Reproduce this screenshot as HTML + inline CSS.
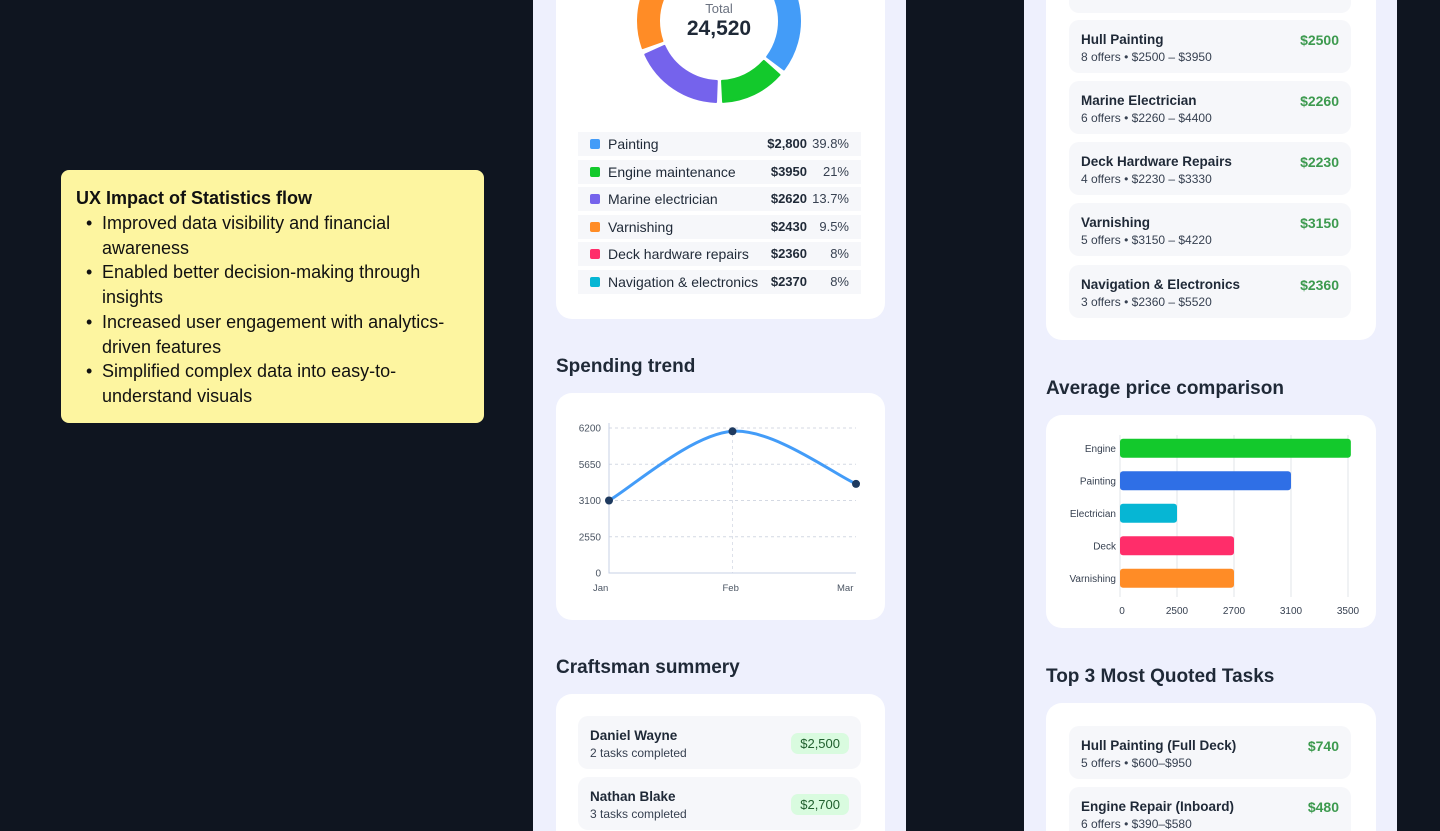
<!DOCTYPE html>
<html><head><meta charset="utf-8"><style>
*{box-sizing:border-box;margin:0;padding:0}
html{width:1440px;height:831px;overflow:hidden}
body{width:1440px;height:831px;background:#0f1520;font-family:"Liberation Sans",sans-serif;position:relative;overflow:hidden;color:#1f2937}
.abs{position:absolute}
.panel{position:absolute;top:0;height:831px;background:#eef0fd}
.card{position:absolute;background:#fff;border-radius:16px}
.h{position:absolute;font-size:19px;font-weight:bold;color:#1f2937}
.row{position:absolute;left:578px;width:283px;height:24px;background:#f6f7fa;font-size:14px}
.row .sw{position:absolute;left:12px;top:7px;width:10px;height:10px;border-radius:2px}
.row .n{position:absolute;left:30px;top:4px}
.row .a{position:absolute;right:54px;top:4px;font-weight:bold;font-size:13px}
.row .p{position:absolute;right:12px;top:4px;color:#374151;font-size:13px}
.item{position:absolute;left:1069px;width:282px;height:53px;background:#f6f7fa;border-radius:10px}
.item .t{position:absolute;left:12px;top:12px;font-size:13.5px;font-weight:bold}
.item .s{position:absolute;left:12px;top:30px;font-size:12px;color:#374151}
.item .v{position:absolute;right:12px;top:12px;font-size:14px;font-weight:bold;color:#3d9a4f}
.note{left:61px;top:170px;width:423px;height:253px;background:#fdf5a0;border-radius:8px;padding:18px 15px;font-size:18px;color:#111}
.note ul{margin-left:12px;list-style:none}
.note li{line-height:24.7px;position:relative;padding-left:14px}
.note li:before{content:"•";position:absolute;left:-2px}
</style></head><body>
<div class="abs note">
<div style="font-weight:bold;margin-bottom:2px">UX Impact of Statistics flow</div>
<ul>
<li>Improved data visibility and financial awareness</li>
<li>Enabled better decision-making through insights</li>
<li>Increased user engagement with analytics-driven features</li>
<li>Simplified complex data into easy-to-understand visuals</li>
</ul></div>

<div class="panel" style="left:533px;width:373px"></div>
<div class="panel" style="left:1024px;width:373px"></div>

<div class="card" style="left:556px;top:-30px;width:329px;height:349px"></div>
<svg class="abs" style="left:0;top:0" width="1440" height="831" id="donut"></svg>
<div class="abs" style="left:669px;top:1px;width:100px;text-align:center;font-size:13px;color:#6b7280">Total</div>
<div class="abs" style="left:659px;top:17px;width:120px;text-align:center;font-size:21px;font-weight:bold;color:#1f2937">24,520</div>

<div id="legend"></div>

<div class="h" style="left:556px;top:356px">Spending trend</div>
<div class="card" style="left:556px;top:393px;width:329px;height:227px"></div>
<svg class="abs" style="left:556px;top:393px" width="329" height="227" id="line"></svg>

<div class="h" style="left:556px;top:657px">Craftsman summery</div>
<div class="card" style="left:556px;top:694px;width:329px;height:137px;border-radius:16px 16px 0 0"></div>
<div class="item" style="left:578px;top:716px;width:283px"><div class="t">Daniel Wayne</div><div class="s">2 tasks completed</div><div class="abs" style="right:12px;top:17px;background:#d9fbdf;border-radius:7px;padding:3px 9px;font-size:13px;color:#1f5f2d">$2,500</div></div>
<div class="item" style="left:578px;top:777px;width:283px"><div class="t">Nathan Blake</div><div class="s">3 tasks completed</div><div class="abs" style="right:12px;top:17px;background:#d9fbdf;border-radius:7px;padding:3px 9px;font-size:13px;color:#1f5f2d">$2,700</div></div>

<div class="card" style="left:1046px;top:-30px;width:330px;height:370px"></div>
<div class="item" style="top:-40px"></div>
<div class="item" style="top:20px"><div class="t">Hull Painting</div><div class="s">8 offers • $2500 – $3950</div><div class="v">$2500</div></div>
<div class="item" style="top:81px"><div class="t">Marine Electrician</div><div class="s">6 offers • $2260 – $4400</div><div class="v">$2260</div></div>
<div class="item" style="top:142px"><div class="t">Deck Hardware Repairs</div><div class="s">4 offers • $2230 – $3330</div><div class="v">$2230</div></div>
<div class="item" style="top:203px"><div class="t">Varnishing</div><div class="s">5 offers • $3150 – $4220</div><div class="v">$3150</div></div>
<div class="item" style="top:265px"><div class="t">Navigation &amp; Electronics</div><div class="s">3 offers • $2360 – $5520</div><div class="v">$2360</div></div>

<div class="h" style="left:1046px;top:378px">Average price comparison</div>
<div class="card" style="left:1046px;top:415px;width:330px;height:213px"></div>
<svg class="abs" style="left:1046px;top:415px" width="330" height="213" id="bar"></svg>

<div class="h" style="left:1046px;top:666px">Top 3 Most Quoted Tasks</div>
<div class="card" style="left:1046px;top:703px;width:330px;height:128px;border-radius:16px 16px 0 0"></div>
<div class="item" style="top:726px"><div class="t">Hull Painting (Full Deck)</div><div class="s">5 offers • $600–$950</div><div class="v">$740</div></div>
<div class="item" style="top:787px"><div class="t">Engine Repair (Inboard)</div><div class="s">6 offers • $390–$580</div><div class="v">$480</div></div>

<script>
const NS='http://www.w3.org/2000/svg';
function mk(tag,attrs,parent){const e=document.createElementNS(NS,tag);for(const k in attrs)e.setAttribute(k,attrs[k]);parent.appendChild(e);return e;}

// Donut data
const donutCats=['Deck hardware repairs','Navigation & electronics','Painting','Engine maintenance','Marine electrician','Varnishing'];
const donutShare=[8,8,26,14,19,25];
const donutColors=['#ff2d6a','#06b6d4','#439cf8','#13c92c','#7563ec','#ff8c26'];
const legendCats=['Painting','Engine maintenance','Marine electrician','Varnishing','Deck hardware repairs','Navigation & electronics'];
const legendAmounts=['$2,800','$3950','$2620','$2430','$2360','$2370'];
const legendPcts=['39.8%','21%','13.7%','9.5%','8%','8%'];
const legendColors=['#439cf8','#13c92c','#7563ec','#ff8c26','#ff2d6a','#06b6d4'];

(function(){
 const svg=document.getElementById('donut');const cx=719,cy=21,R=81,r=60,total=donutShare.reduce((a,b)=>a+b,0);
 let ang=-112;
 donutShare.forEach((v,i)=>{
  const span=v/total*360, a0=(ang+2.5)*Math.PI/180, a1=(ang+span-2.5)*Math.PI/180; ang+=span;
  const large=span-5>180?1:0;
  const p=`M${cx+R*Math.cos(a0)} ${cy+R*Math.sin(a0)} A${R} ${R} 0 ${large} 1 ${cx+R*Math.cos(a1)} ${cy+R*Math.sin(a1)} L${cx+r*Math.cos(a1)} ${cy+r*Math.sin(a1)} A${r} ${r} 0 ${large} 0 ${cx+r*Math.cos(a0)} ${cy+r*Math.sin(a0)}Z`;
  const el=mk('path',{d:p,fill:donutColors[i],'stroke-linejoin':'round','stroke':donutColors[i],'stroke-width':2},svg);
  
  
 });
 const lg=document.getElementById('legend');
 legendCats.forEach((c,i)=>{
  const d=document.createElement('div');d.className='row';d.style.top=(132+i*27.6)+'px';
  
  
  d.innerHTML=`<div class="sw" style="background:${legendColors[i]}"></div><div class="n">${c.replace('&','&amp;')}</div><div class="a">${legendAmounts[i]}</div><div class="p">${legendPcts[i]}</div>`;
  lg.appendChild(d);
 });
})();

// Line chart data
const months=['Jan','Feb','Mar'];
const spend=[3100,6150,4270];
const yTicks=[0,2550,3100,5650,6200];

(function(){
 const svg=document.getElementById('line');
 const x0=53,x1=300,yb=180,yt=35;
 const xs=i=>x0+i*(x1-x0)/(months.length-1);
 const ys=v=>{const n=yTicks.length-1,step=(yb-yt)/n;for(let k=0;k<n;k++){if(v<=yTicks[k+1]){return yb-step*(k+(v-yTicks[k])/(yTicks[k+1]-yTicks[k]));}}return yt-(v-yTicks[n])/(yTicks[n]-yTicks[n-1])*step;};
 yTicks.forEach(t=>{const y=ys(t);
  if(t>0){const g=mk('line',{x1:x0,x2:x1,y1:y,y2:y,stroke:'#d4d9e3','stroke-dasharray':'3 3'},svg);}
  const tx=mk('text',{x:x0-8,y:y+3.5,'text-anchor':'end','font-size':10,fill:'#4b5563'},svg);tx.textContent=t;
  
 });
 const vg=mk('line',{x1:xs(1),x2:xs(1),y1:yt,y2:yb,stroke:'#dde1ea','stroke-dasharray':'3 3'},svg);
 
 const ax=mk('path',{d:`M${x0} ${yt-5}V${yb}H${x1}`,stroke:'#c7d0e6',fill:'none'},svg);
 
 months.forEach((m,i)=>{const t=mk('text',{x:xs(i)+(i==0?-16:i==months.length-1?-19:-10),y:yb+18,'font-size':9.5,fill:'#4b5563'},svg);t.textContent=m;
  });
 const pts=spend.map((v,i)=>[xs(i),ys(v)]);
 let d=`M${pts[0][0]} ${pts[0][1]}`;
 for(let i=0;i<pts.length-1;i++){const p0=pts[i-1]||pts[i],p1=pts[i],p2=pts[i+1],p3=pts[i+2]||p2;
  const c1=[p1[0]+(p2[0]-p0[0])/6,p1[1]+(p2[1]-p0[1])/6],c2=[p2[0]-(p3[0]-p1[0])/6,p2[1]-(p3[1]-p1[1])/6];
  d+=` C${c1[0]} ${c1[1]} ${c2[0]} ${c2[1]} ${p2[0]} ${p2[1]}`;}
 const ln=mk('path',{d,stroke:'#439cf8','stroke-width':3,fill:'none'},svg);
 
 pts.forEach(p=>{const c=mk('circle',{cx:p[0],cy:p[1],r:4,fill:'#1e3a5f'},svg);
  });
})();

// Bar chart data
const barCats=['Engine','Painting','Electrician','Deck','Varnishing'];
const barVals=[3520,3100,2500,2700,2700];
const xTicks=[0,2500,2700,3100,3500];
const barColors=['#13c92c','#2f6fe6','#06b6d4','#ff2d6a','#ff8c26'];

(function(){
 const svg=document.getElementById('bar');
 const x0=74,step=57,yTop=22,band=32.5;
 const xs=v=>{const n=xTicks.length-1;for(let k=0;k<n;k++){if(v<=xTicks[k+1])return x0+step*(k+(v-xTicks[k])/(xTicks[k+1]-xTicks[k]));}return x0+step*(n+(v-xTicks[n])/(xTicks[n]-xTicks[n-1]));};
 xTicks.forEach(t=>{const x=xs(t);
  const g=mk('line',{x1:x,x2:x,y1:20,y2:182,stroke:'#e2e4e8'},svg);
  const tx=mk('text',{x:x+(t==0?2:0),y:199,'text-anchor':'middle','font-size':10,fill:'#374151'},svg);tx.textContent=t;
  });
 barCats.forEach((c,i)=>{const yc=yTop+band*(i+0.5)-5;
  const r=mk('rect',{x:x0,y:yc-9.5,width:xs(barVals[i])-x0,height:19,rx:3,fill:barColors[i]},svg);
  
  const t=mk('text',{x:x0-4,y:yc+3.5,'text-anchor':'end','font-size':10,fill:'#374151'},svg);t.textContent=c;
  });
})();
</script>
</body></html>
